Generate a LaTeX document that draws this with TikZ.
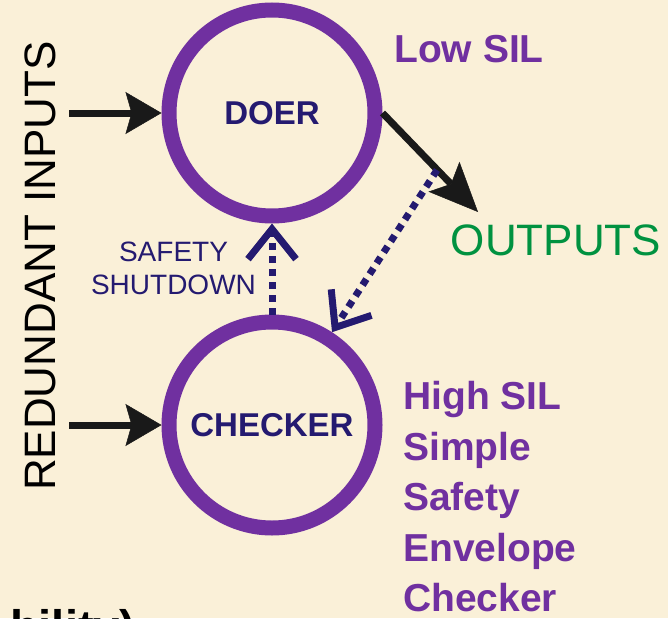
\documentclass[tikz,border=0pt]{standalone}
\usepackage{fontspec}
\setmainfont{Liberation Sans}
\usetikzlibrary{arrows.meta}
\definecolor{bg}{RGB}{250,240,216}
\definecolor{circ}{RGB}{112,48,160}
\definecolor{navy}{RGB}{36,26,112}
\definecolor{grn}{RGB}{0,146,64}
\definecolor{lbl}{RGB}{112,48,160}
\begin{document}
\begin{tikzpicture}[x=1pt,y=-1pt,
  proc/.style={circle, draw=circ, line width=15pt, minimum size=206pt, inner sep=0pt,
    font=\fontsize{33}{40}\selectfont\bfseries, text=navy},
  inarrow/.style={black!90, line width=7pt, -{Stealth[length=36pt,width=42pt,inset=6pt,line width=0.5pt]}},
  outarrow/.style={black!90, line width=7pt, -{Stealth[length=49pt,width=43pt,inset=10pt,line width=0.5pt]}},
  dotarrow/.style={navy, line width=7pt, dash pattern=on 7pt off 6pt,
    -{Straight Barb[length=30pt,width=48pt,line width=7pt]}},
  sil/.style={text=lbl, font=\fontsize{39}{50.5}\selectfont\bfseries, inner sep=0pt},
]
\fill[bg] (0,0) rectangle (668,618);
\useasboundingbox (0,0) rectangle (668,618);

\node[proc] (doer) at (272,113) {DOER};
\node[proc] (checker) at (272,425) {CHECKER};

\coordinate (in1) at (69,113);
\coordinate (in2) at (69,425);
\draw[inarrow] (in1) -- (doer.west);
\draw[inarrow] (in2) -- (checker.west);

\coordinate (outtip) at (478,212);
\draw[outarrow] (doer.east) -- (outtip);

\draw[dotarrow] (checker.north) -- (doer.south);
\coordinate (tap) at (437,170);
\draw[dotarrow] (tap) -- (checker);

\node[font=\fontsize{44}{50}\selectfont, rotate=90, anchor=base, inner sep=0pt] (ri) at (55,266) {REDUNDANT INPUTS};
\node[font=\fontsize{28}{33}\selectfont, text=navy, align=center, inner sep=0pt] (ss) at (173.5,268.5) {SAFETY\\SHUTDOWN};
\node[font=\fontsize{44}{50}\selectfont, text=grn, anchor=base, inner sep=0pt] (out) at (556,255) {OUTPUTS};
\node[sil, anchor=base west] (low) at (394,63) {Low SIL};
\node[sil, anchor=north west, align=left] (high) at (403,381.5) {High SIL\\Simple\\Safety\\Envelope\\Checker};

\begin{scope}
\clip (0,0) rectangle (668,618);
\node[font=\fontsize{47}{50}\selectfont\bfseries, anchor=base west, inner sep=0pt] (frag) at (10,643) {bility)};
\end{scope}
\end{tikzpicture}
\end{document}
